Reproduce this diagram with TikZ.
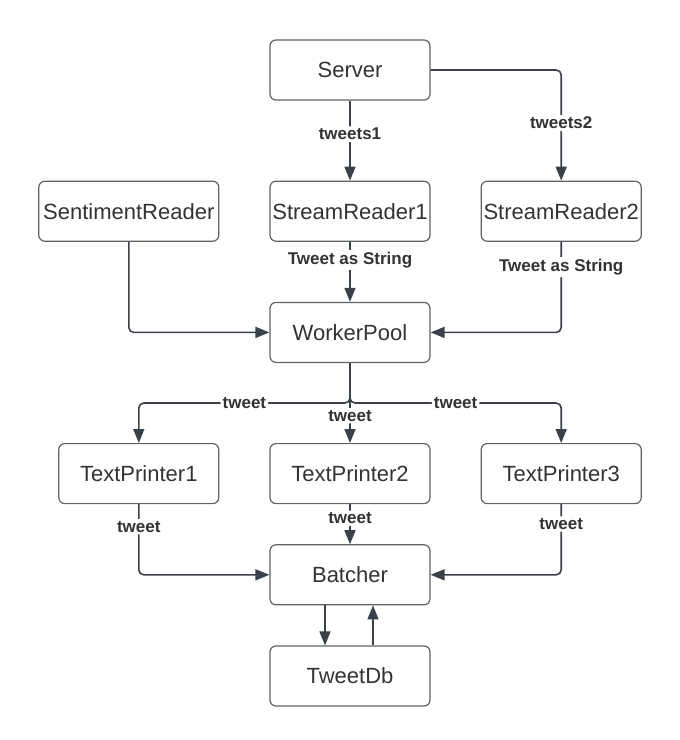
\documentclass[tikz,border=0pt]{standalone}
\usepackage{fontspec}
\setmainfont{Liberation Sans}
\usetikzlibrary{positioning, arrows.meta}

\definecolor{linegray}{HTML}{3A414A}
\definecolor{boxgray}{HTML}{5F6368}
\definecolor{textgray}{HTML}{333333}

\begin{document}
\begin{tikzpicture}[
    x=1pt, y=-1pt,
    node distance=80pt and 50pt,
    comp/.style={rectangle, rounded corners=6pt, draw=boxgray, line width=1.2pt,
        fill=white, minimum width=160pt, minimum height=60pt, inner sep=0pt,
        text=textgray, font=\fontsize{22}{26}\selectfont},
    flow/.style={draw=linegray, line width=1.6pt, rounded corners=5pt,
        -{Triangle[width=11pt, length=14pt]}},
    lbl/.style={fill=white, inner sep=2pt, text=textgray,
        font=\fontsize{17}{20}\selectfont\bfseries},
]

\useasboundingbox (0,0) rectangle (680,740);

\node[comp] (server) at (350,70) {Server};
\node[comp, below=of server] (reader1) {StreamReader1};
\node[comp, right=of reader1] (reader2) {StreamReader2};
\node[comp, left=of reader1, minimum width=180pt] (sentiment) {SentimentReader};
\node[comp, below=60pt of reader1] (pool) {WorkerPool};
\node[comp, below=of pool] (printer2) {TextPrinter2};
\node[comp, left=of printer2] (printer1) {TextPrinter1};
\node[comp, right=of printer2] (printer3) {TextPrinter3};
\node[comp, below=40pt of printer2] (batcher) {Batcher};
\node[comp, below=40pt of batcher] (tweetdb) {TweetDb};

\coordinate[below=40pt of pool.south] (split);

% readers into the pool
\draw[flow] (server) -- node[lbl, pos=0.42] {tweets1} (reader1);
\draw[flow] (server.east) -| node[lbl, pos=0.74] {tweets2} (reader2.north);
\draw[flow] (reader1) -- node[lbl, pos=0.3] {Tweet as String} (pool);
\draw[flow] (reader2.south) |- node[lbl, pos=0.14] {Tweet as String} (pool.east);
\draw[flow] (sentiment.south) |- (pool.west);

% pool out to the printers
\draw[flow] (pool.south) -- (split) -| node[lbl, pos=0.25] {tweet} (printer1.north);
\draw[flow] (pool.south) -- (split) -| node[lbl, pos=0.25] {tweet} (printer3.north);
\draw[flow] (pool) -- node[lbl, pos=0.66] {tweet} (printer2);

% printers into the batcher
\draw[flow] (printer1.south) |- node[lbl, pos=0.16] {tweet} (batcher.west);
\draw[flow] (printer2) -- node[lbl, pos=0.35] {tweet} (batcher);
\draw[flow] (printer3.south) |- node[lbl, pos=0.14] {tweet} (batcher.east);

\draw[flow] ([xshift=-25pt]batcher.south) -- ([xshift=-25pt]tweetdb.north);
\draw[flow] ([xshift=23pt]tweetdb.north) -- ([xshift=23pt]batcher.south);

\end{tikzpicture}
\end{document}
